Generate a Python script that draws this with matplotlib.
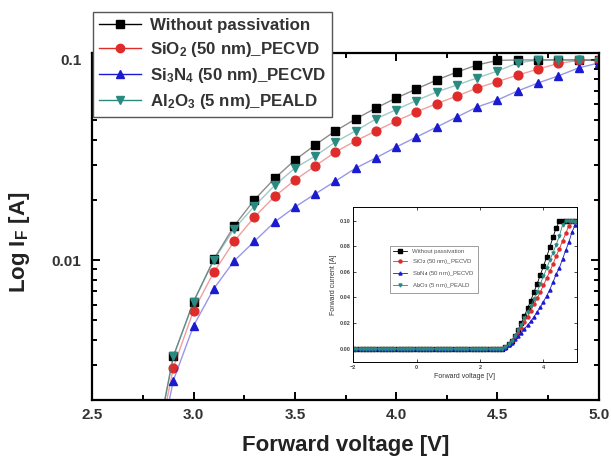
import numpy as np
import matplotlib.pyplot as plt
from matplotlib.ticker import FixedLocator, FormatStrFormatter, NullFormatter

plt.rcParams['font.family'] = ['Liberation Sans', 'DejaVu Sans']
plt.rcParams['font.weight'] = 'bold'
plt.rcParams['mathtext.fontset'] = 'custom'
plt.rcParams['mathtext.rm'] = 'Liberation Sans:bold'
plt.rcParams['mathtext.default'] = 'rm'

# forward voltage [V]
voltage = [2.8, 2.9, 3.0, 3.1, 3.2, 3.3, 3.4, 3.5, 3.6, 3.7, 3.8, 3.9,
           4.0, 4.1, 4.2, 4.3, 4.4, 4.5, 4.6, 4.7, 4.8, 4.9, 5.0]

# forward current [A]
i_bare = [0.0010, 0.0033, 0.0062, 0.0101, 0.0148, 0.0200, 0.0256, 0.0316,
          0.0376, 0.0442, 0.0507, 0.0575, 0.0645, 0.0716, 0.0794, 0.0870,
          0.0944, 0.0995, 0.100, 0.100, 0.100, 0.100, 0.100]
i_sio2 = [0.0009, 0.0029, 0.0056, 0.0087, 0.0124, 0.0164, 0.0208, 0.0251,
          0.0295, 0.0347, 0.0394, 0.0442, 0.0495, 0.0550, 0.0605, 0.0660,
          0.0724, 0.0780, 0.0840, 0.0900, 0.0960, 0.0995, 0.100]
i_si3n4 = [0.0008, 0.0025, 0.0047, 0.0072, 0.0099, 0.0124, 0.0155, 0.0184,
           0.0214, 0.0248, 0.0288, 0.0324, 0.0367, 0.0412, 0.0462, 0.0519,
           0.0582, 0.0631, 0.0700, 0.0767, 0.0832, 0.0912, 0.0966]
i_al2o3 = [0.0010, 0.0033, 0.0062, 0.0100, 0.0143, 0.0186, 0.0236, 0.0288,
           0.0331, 0.0389, 0.0442, 0.0507, 0.0565, 0.0627, 0.0692, 0.0750,
           0.0813, 0.0880, 0.0966, 0.100, 0.100, 0.100, 0.099]

# inset: flat zero current below turn-on
off_voltage = np.round(np.arange(-2.0, 2.75, 0.1), 2)
off_current = np.zeros(len(off_voltage))

labels = ['Without passivation', 'SiO$_2$ (50 nm)_PECVD',
          'Si$_3$N$_4$ (50 nm)_PECVD', 'Al$_2$O$_3$ (5 nm)_PEALD']
series = [i_bare, i_sio2, i_si3n4, i_al2o3]
colors = ['#000000', '#e02b2b', '#1a1ad0', '#2b8a80']
markers = ['s', 'o', '^', 'v']

fig = plt.figure(figsize=(6.11, 4.63), dpi=100)
ax = fig.add_axes([0.151, 0.136, 0.829, 0.749])

handles = []
for y, c, m, lab in zip(series, colors, markers, labels):
    ax.plot(voltage, y, '-', color=c, alpha=0.45, lw=1.0)
    ax.plot(voltage, y, m, color=c, ms=6.3, mec=c, ls='none')
    h, = ax.plot([], [], '-' + m, color=c, ms=6, lw=1.0, label=lab)
    handles.append(h)

ax.set_yscale('log')
ax.set_xlim(2.5, 5.0)
ax.set_ylim(0.002, 0.108)
ax.yaxis.set_major_locator(FixedLocator([0.01, 0.1]))
ax.set_yticklabels(['0.01', '0.1'])
ax.yaxis.set_minor_formatter(NullFormatter())
ax.set_xticks([2.5, 3.0, 3.5, 4.0, 4.5, 5.0])
ax.set_xticks([2.75, 3.25, 3.75, 4.25, 4.75], minor=True)
ax.xaxis.set_major_formatter(FormatStrFormatter('%.1f'))
ax.tick_params(which='both', direction='in', top=True, right=True,
               width=1.4, labelsize=11, labelcolor='#333333')
ax.tick_params(axis='x', pad=6)
ax.tick_params(axis='y', pad=8)
ax.tick_params(which='major', length=6)
ax.tick_params(which='minor', length=3.5)
for s in ax.spines.values():
    s.set_linewidth(1.6)

ax.set_xlabel('Forward voltage [V]', fontsize=16, fontweight='bold',
              color='#222222', labelpad=9)
ax.set_ylabel('Log I$_F$ [A]', fontsize=16, fontweight='bold',
              color='#222222')
ax.yaxis.set_label_coords(-0.118, 0.455)

leg = ax.legend(handles=handles, loc='upper left',
                bbox_to_anchor=(0.152, 0.975), bbox_transform=fig.transFigure,
                fontsize=12.2, labelspacing=0.42, handlelength=2.5,
                handletextpad=0.5, borderpad=0.35, borderaxespad=0,
                fancybox=False, framealpha=1, edgecolor='#555555')
leg.get_frame().set_linewidth(1.0)
for t in leg.get_texts():
    t.set_color('#333333')

# inset, linear scale
ins = fig.add_axes([0.578, 0.218, 0.366, 0.335])
for y, c, m, lab in zip(series, colors, markers, labels):
    xv = list(off_voltage) + voltage
    yv = list(off_current) + y
    ins.plot(xv, yv, '-' + m, color=c, ms=2.2, lw=0.6, label=lab)
ins.set_xlim(-2, 5.05)
ins.set_ylim(-0.0105, 0.1107)
ins.set_xticks([-2, 0, 2, 4])
ins.set_yticks([0.0, 0.02, 0.04, 0.06, 0.08, 0.10])
ins.yaxis.set_major_formatter(FormatStrFormatter('%.2f'))
ins.tick_params(direction='in', top=True, right=True, labelsize=4,
                length=2, width=0.5, pad=2, labelcolor='#444444')
for s in ins.spines.values():
    s.set_linewidth(0.7)
ins.set_xlabel('Forward voltage [V]', fontsize=5, labelpad=2, color='#333333')
ins.set_ylabel('Forward current [A]', fontsize=5, labelpad=2, color='#333333')
il = ins.legend(loc='upper left', bbox_to_anchor=(0.15, 0.77), fontsize=4.3,
                fancybox=False, framealpha=1, edgecolor='#777777',
                handlelength=2.4, labelspacing=0.5, borderpad=0.5)
il.get_frame().set_linewidth(0.5)
for t in il.get_texts():
    t.set_color('#555555')
    t.set_fontweight('normal')

fig.savefig('out.png', dpi=100)
